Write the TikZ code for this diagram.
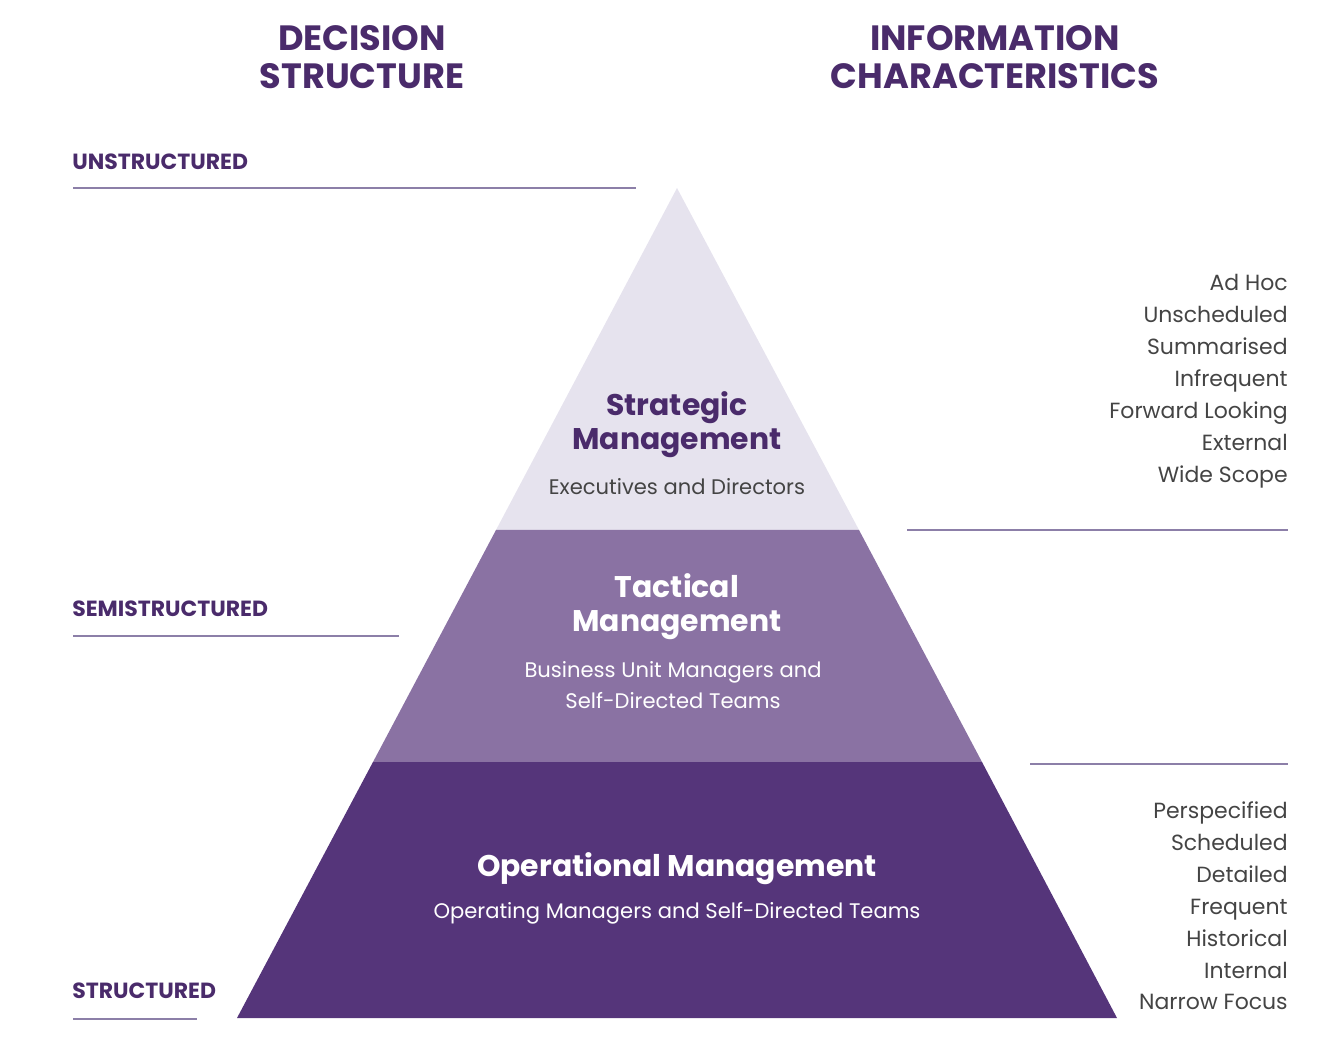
\documentclass[tikz,border=0pt]{standalone}
\usepackage{fontspec}
\setmainfont{Poppins}
\definecolor{dk}{HTML}{4A2B6B}
\definecolor{topc}{HTML}{E6E3EE}
\definecolor{midc}{HTML}{8A72A3}
\definecolor{botc}{HTML}{55357A}
\definecolor{ln}{HTML}{8C7FA8}
\definecolor{gr}{HTML}{444444}
\tikzset{hd/.style={font=\fontsize{20}{22}\selectfont\bfseries,text=dk,align=center},
lab/.style={font=\fontsize{12.5}{14}\selectfont\bfseries,text=dk,anchor=base west,inner sep=0},
rl/.style={draw=ln,line width=1.2pt},
lst/.style={font=\fontsize{12.5}{18.2}\selectfont,text=gr,align=right,anchor=north east,inner sep=0},
big/.style={font=\fontsize{17}{19.5}\selectfont\bfseries,align=center},
sub/.style={font=\fontsize{12}{18}\selectfont,align=center}}
\begin{document}
\begin{tikzpicture}[x=0.02cm,y=-0.02cm]
\useasboundingbox (0,0) rectangle (1325,1060);
\fill[topc] (677,188) -- (859,530) -- (496,530) -- cycle;
\fill[midc] (496,530) -- (859,530) -- (982,762) -- (373,762) -- cycle;
\fill[botc] (373,762) -- (982,762) -- (1117,1018) -- (237,1018) -- cycle;
\node[hd] (t1) at (362,57) {DECISION\\STRUCTURE};
\node[hd] (t2) at (995,57) {INFORMATION\\CHARACTERISTICS};
\node[lab] (u) at (72,170) {UNSTRUCTURED};
\node[lab] (s) at (72,616) {SEMISTRUCTURED};
\node[lab] (st) at (72,998) {STRUCTURED};
\coordinate (a1) at (73,188); \coordinate (a2) at (636,188);
\coordinate (b1) at (73,636); \coordinate (b2) at (399,636);
\coordinate (c1) at (73,1019); \coordinate (c2) at (197,1019);
\coordinate (d1) at (907,530); \coordinate (d2) at (1288,530);
\coordinate (e1) at (1030,764); \coordinate (e2) at (1288,764);
\draw[rl] (a1)--(a2); \draw[rl] (b1)--(b2); \draw[rl] (c1)--(c2);
\draw[rl] (d1)--(d2); \draw[rl] (e1)--(e2);
\node[big,text=dk] (sm) at (677,425) {Strategic\\Management};
\node[sub,text=gr] (smd) at (677,487) {Executives and Directors};
\node[big,text=white] (tm) at (677,607) {Tactical\\Management};
\node[sub,text=white] (tmd) at (673,685) {Business Unit Managers and\\Self-Directed Teams};
\node[big,text=white] (om) at (677,869) {Operational Management};
\node[sub,text=white] (omd) at (677,913) {Operating Managers and Self-Directed Teams};
\node[lst] (l1) at (1288,274) {Ad Hoc\\Unscheduled\\Summarised\\Infrequent\\Forward Looking\\External\\Wide Scope};
\node[lst] (l2) at (1288,801) {Perspecified\\Scheduled\\Detailed\\Frequent\\Historical\\Internal\\Narrow Focus};
\end{tikzpicture}
\end{document}
